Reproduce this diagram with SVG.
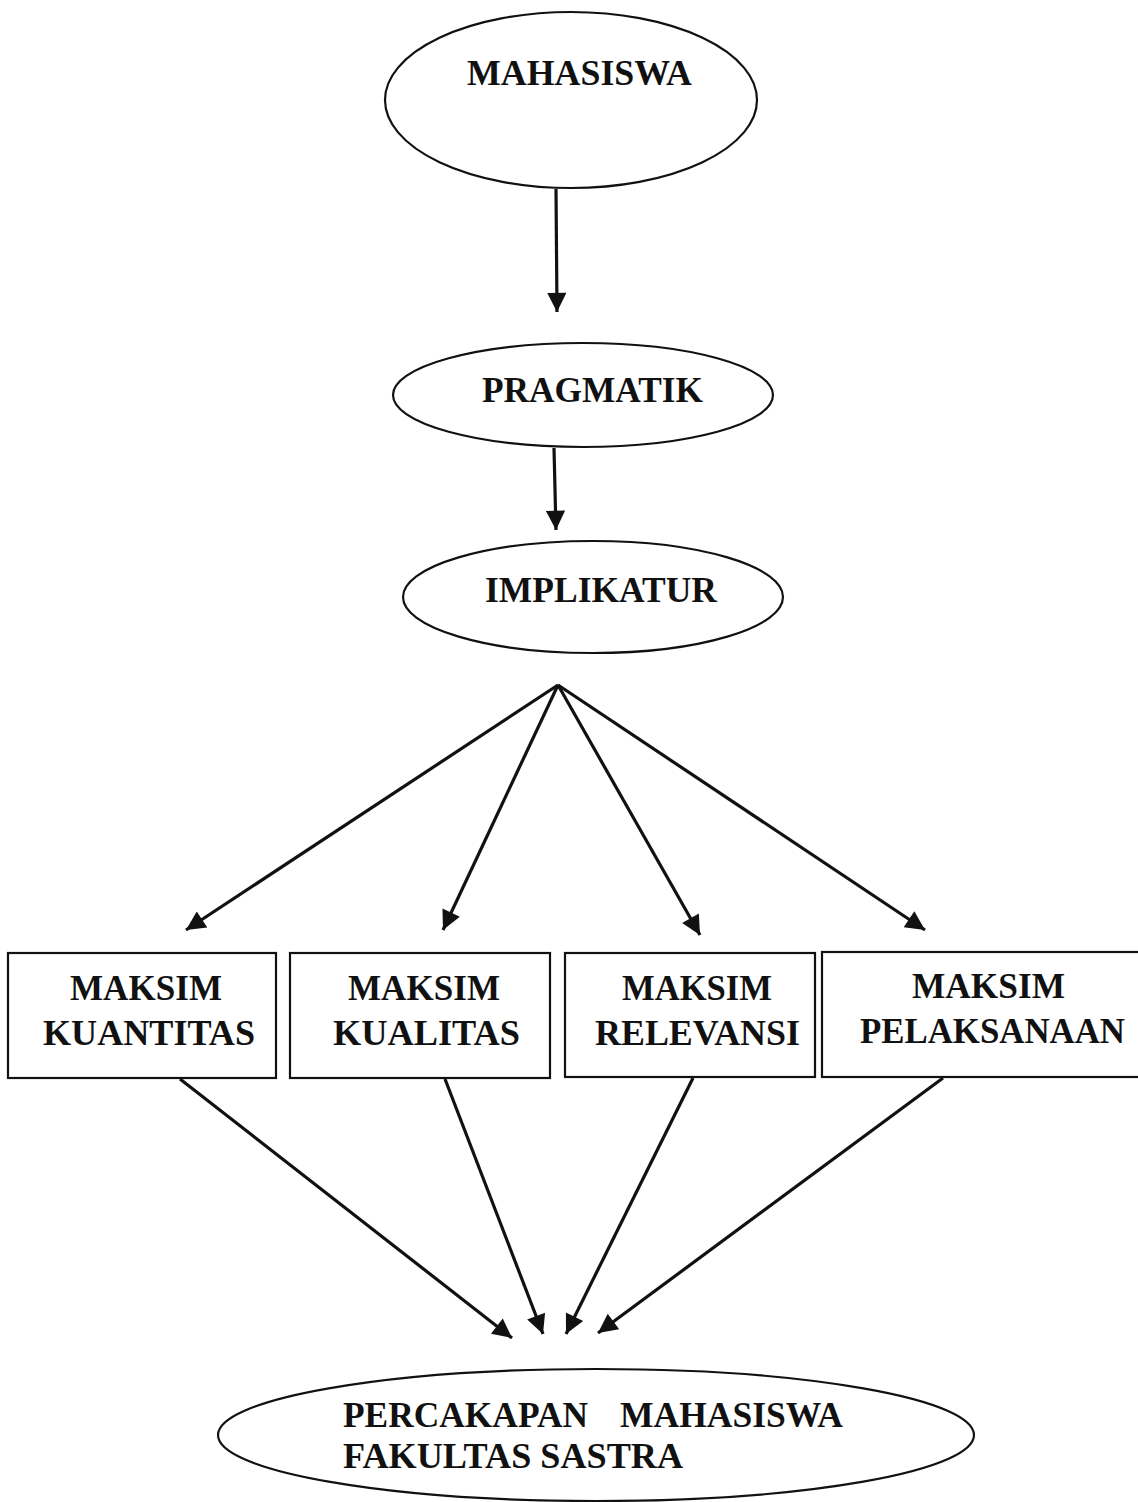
<svg xmlns="http://www.w3.org/2000/svg" width="1138" height="1502" viewBox="0 0 1138 1502">
<style>
.n{fill:#fff;stroke:#111;stroke-width:2.2}
.t{font-family:"Liberation Serif","Times New Roman",serif;font-weight:bold;font-size:35px;fill:#111}
.c{stroke:#111;stroke-width:3.2;fill:none}
</style>
<defs>
<marker id="ah" viewBox="0 0 10 10" refX="10" refY="5" markerWidth="7.5" markerHeight="6" markerUnits="strokeWidth" orient="auto">
<path d="M0,0 L10,5 L0,10 Z" fill="#111"/>
</marker>
</defs>
<rect width="1138" height="1502" fill="#fff"/>
<g id="connectors">
<line class="c" x1="556" y1="189" x2="557" y2="312" marker-end="url(#ah)"/>
<line class="c" x1="554" y1="448" x2="556" y2="530" marker-end="url(#ah)"/>
<line class="c" x1="558" y1="685" x2="186" y2="930" marker-end="url(#ah)"/>
<line class="c" x1="558" y1="685" x2="443" y2="930" marker-end="url(#ah)"/>
<line class="c" x1="558" y1="685" x2="700" y2="935" marker-end="url(#ah)"/>
<line class="c" x1="558" y1="685" x2="925" y2="930" marker-end="url(#ah)"/>
<line class="c" x1="180" y1="1079" x2="512" y2="1338" marker-end="url(#ah)"/>
<line class="c" x1="445" y1="1079" x2="543" y2="1334" marker-end="url(#ah)"/>
<line class="c" x1="693" y1="1078" x2="566" y2="1334" marker-end="url(#ah)"/>
<line class="c" x1="943" y1="1078" x2="598" y2="1333" marker-end="url(#ah)"/>
</g>
<g id="mahasiswa">
<ellipse class="n" cx="571" cy="100" rx="186" ry="88"/>
<text class="t" x="467" y="85" textLength="225" lengthAdjust="spacingAndGlyphs">MAHASISWA</text>
</g>
<g id="pragmatik">
<ellipse class="n" cx="583" cy="395" rx="190" ry="52"/>
<text class="t" x="482" y="402" textLength="221" lengthAdjust="spacingAndGlyphs">PRAGMATIK</text>
</g>
<g id="implikatur">
<ellipse class="n" cx="593" cy="597" rx="190" ry="56"/>
<text class="t" x="485" y="602" textLength="232" lengthAdjust="spacingAndGlyphs">IMPLIKATUR</text>
</g>
<g id="kuantitas">
<rect class="n" x="8" y="953" width="268" height="125"/>
<text class="t" x="70" y="1000" textLength="152" lengthAdjust="spacingAndGlyphs">MAKSIM</text>
<text class="t" x="43" y="1045" textLength="212" lengthAdjust="spacingAndGlyphs">KUANTITAS</text>
</g>
<g id="kualitas">
<rect class="n" x="290" y="953" width="260" height="125"/>
<text class="t" x="348" y="1000" textLength="152" lengthAdjust="spacingAndGlyphs">MAKSIM</text>
<text class="t" x="333" y="1045" textLength="187" lengthAdjust="spacingAndGlyphs">KUALITAS</text>
</g>
<g id="relevansi">
<rect class="n" x="565" y="953" width="250" height="124"/>
<text class="t" x="622" y="1000" textLength="150" lengthAdjust="spacingAndGlyphs">MAKSIM</text>
<text class="t" x="595" y="1045" textLength="205" lengthAdjust="spacingAndGlyphs">RELEVANSI</text>
</g>
<g id="pelaksanaan">
<rect class="n" x="822" y="952" width="340" height="125"/>
<text class="t" x="912" y="998" textLength="153" lengthAdjust="spacingAndGlyphs">MAKSIM</text>
<text class="t" x="860" y="1043" textLength="265" lengthAdjust="spacingAndGlyphs">PELAKSANAAN</text>
</g>
<g id="percakapan">
<ellipse class="n" cx="596" cy="1435" rx="378" ry="66"/>
<text class="t" x="343" y="1427" textLength="245" lengthAdjust="spacingAndGlyphs">PERCAKAPAN</text>
<text class="t" x="620" y="1427" textLength="223" lengthAdjust="spacingAndGlyphs">MAHASISWA</text>
<text class="t" x="343" y="1468" textLength="340" lengthAdjust="spacingAndGlyphs">FAKULTAS SASTRA</text>
</g>
</svg>
